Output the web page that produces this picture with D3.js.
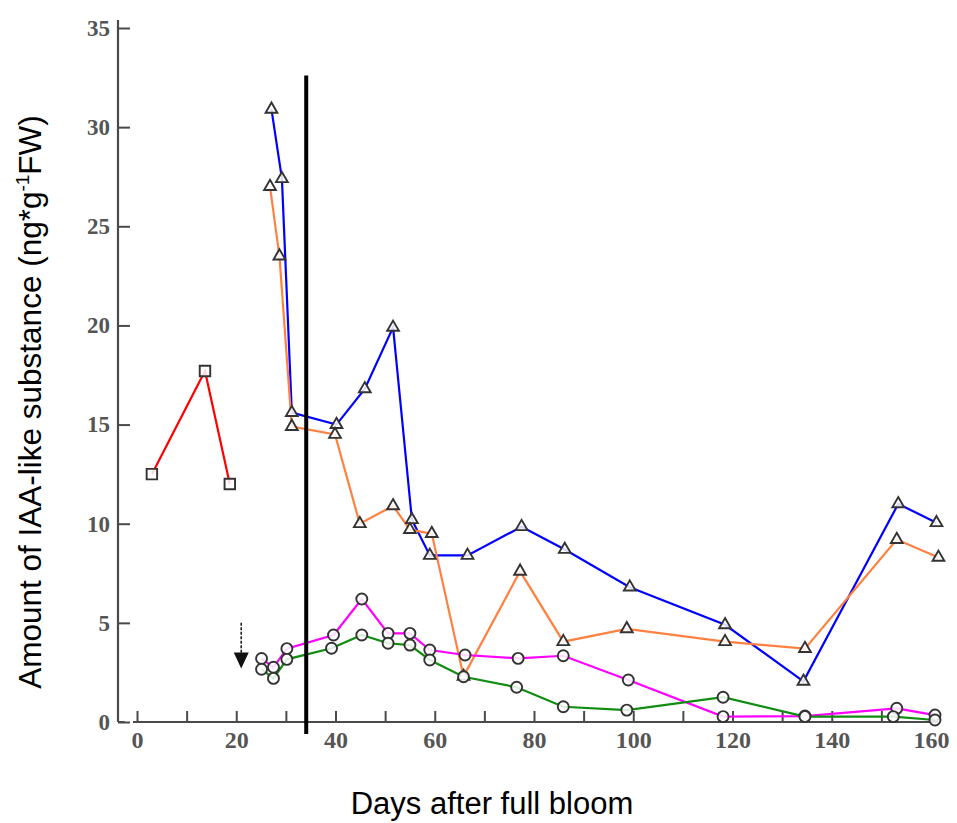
<!DOCTYPE html>
<html>
<head>
<meta charset="utf-8">
<script src="https://cdn.jsdelivr.net/npm/d3@7"></script>
<style>
  html, body { margin: 0; padding: 0; background: #fff; }
  svg { display: block; }
</style>
</head>
<body>
<svg id="chart" width="957" height="823"></svg>
<script>
// IAA-like substance content over the season (days after full bloom)

// Red series, squares (early fruitlets)
const redDays = [3, 13.7, 18.7];
const redVals = [12.5, 17.7, 12.0];

// Blue series, triangles
const blueDays = [27.1, 29.2, 31.2, 40.2, 45.9, 51.6, 55.4, 59.0, 66.6, 77.5, 86.2, 99.3, 118.5, 134.3, 153.4, 161.1];
const blueVals = [30.9, 27.4, 15.6, 15.0, 16.8, 19.9, 10.2, 8.4, 8.4, 9.85, 8.7, 6.8, 4.9, 2.05, 11.0, 10.05];

// Orange series, triangles
const orangeDays = [26.8, 28.7, 31.2, 39.9, 44.9, 51.6, 55.0, 59.4, 65.8, 77.2, 85.9, 98.7, 118.5, 134.6, 153.1, 161.5];
const orangeVals = [27.0, 23.5, 14.9, 14.5, 10.0, 10.9, 9.7, 9.5, 2.3, 7.6, 4.05, 4.7, 4.05, 3.7, 9.2, 8.3];

// Magenta series, circles
const magentaDays = [25.1, 27.5, 30.2, 39.6, 45.3, 50.6, 55.0, 59.0, 66.1, 76.8, 85.9, 99.0, 118.1, 134.6, 153.1, 160.8];
const magentaVals = [3.2, 2.76, 3.7, 4.39, 6.2, 4.47, 4.47, 3.63, 3.38, 3.21, 3.34, 2.12, 0.27, 0.3, 0.69, 0.35];

// Green series, circles
const greenDays = [25.1, 27.5, 30.2, 39.2, 45.3, 50.6, 55.0, 59.0, 65.8, 76.5, 85.9, 98.7, 118.1, 134.6, 152.4, 160.8];
const greenVals = [2.66, 2.2, 3.16, 3.72, 4.39, 3.97, 3.88, 3.13, 2.28, 1.75, 0.77, 0.6, 1.25, 0.27, 0.27, 0.1];

// Reference marks
const dividerDay = 34.1;          // vertical divider
const dividerRange = [32.6, -0.6];
const arrowDay = 21;              // downward arrow
const arrowRange = [5.0, 2.7];

// Axis ticks
const xTicks = d3.range(0, 161, 10);
const xLabelTicks = [0, 20, 40, 60, 80, 100, 120, 140, 160];
const yTicks = [0, 5, 10, 15, 20, 25, 30, 35];

const xTitle = "Days after full bloom";
const yTitle = ["Amount of IAA-like substance (ng*g", "-1", "FW)"];

const svg = d3.select("#chart");

const x = d3.scaleLinear().domain([0, 160]).range([137, 931]);
const y = d3.scaleLinear().domain([0, 35]).range([722, 28]);

const axisColor = "#4a4a4a";
const tickFont = "'Liberation Serif', 'DejaVu Serif', serif";

// ---- axes ----
const yAxis = svg.append("g")
  .attr("transform", `translate(${118},0)`)
  .call(d3.axisLeft(y).tickValues(yTicks).tickSize(-12).tickSizeOuter(0).tickPadding(8));
yAxis.select(".domain").remove();
yAxis.append("line")
  .attr("x1", 0).attr("x2", 0)
  .attr("y1", y(35.4)).attr("y2", y(0))
  .attr("stroke", axisColor).attr("stroke-width", 2.2);
yAxis.selectAll(".tick line").attr("stroke", axisColor).attr("stroke-width", 2);
yAxis.selectAll(".tick text")
  .attr("font-family", tickFont).attr("font-weight", "bold")
  .attr("font-size", 23).attr("fill", "#555");

const xAxis = svg.append("g")
  .attr("transform", `translate(0,${y(0)})`)
  .call(d3.axisBottom(x).tickValues(xTicks).tickSize(-11).tickSizeOuter(0).tickPadding(9)
    .tickFormat(d => xLabelTicks.includes(d) ? d : ""));
xAxis.select(".domain").remove();
xAxis.append("line")
  .attr("x1", x(-0.8)).attr("x2", x(161.5))
  .attr("y1", 0).attr("y2", 0)
  .attr("stroke", axisColor).attr("stroke-width", 2.2);
xAxis.selectAll(".tick line").attr("stroke", axisColor).attr("stroke-width", 2);
xAxis.selectAll(".tick text")
  .attr("font-family", tickFont).attr("font-weight", "bold")
  .attr("font-size", 24).attr("fill", "#555");

// small hook joining the y axis to the x axis
svg.append("line")
  .attr("x1", 118).attr("x2", x(-2.5))
  .attr("y1", y(0)).attr("y2", y(0))
  .attr("stroke", axisColor).attr("stroke-width", 2);

// ---- series ----
const series = [
  { days: redDays, vals: redVals, color: "#ff0000", shape: d3.symbolSquare, size: 110 },
  { days: blueDays, vals: blueVals, color: "#0000ff", shape: d3.symbolTriangle, size: 60 },
  { days: orangeDays, vals: orangeVals, color: "#ff8040", shape: d3.symbolTriangle, size: 60 },
  { days: magentaDays, vals: magentaVals, color: "#ff00ff", shape: d3.symbolCircle, size: 95 },
  { days: greenDays, vals: greenVals, color: "#108c10", shape: d3.symbolCircle, size: 95 }
];

const line = d3.line().x(d => x(d[0])).y(d => y(d[1]));

const linesG = svg.append("g");
series.forEach(s => {
  const pts = s.days.map((d, i) => [d, s.vals[i]]);
  linesG.append("path")
    .datum(pts)
    .attr("fill", "none")
    .attr("stroke", s.color)
    .attr("stroke-width", 2.2)
    .attr("d", line);
});

const markersG = svg.append("g");
series.forEach(s => {
  const pts = s.days.map((d, i) => [d, s.vals[i]]);
  markersG.selectAll(null)
    .data(pts)
    .enter().append("path")
    .attr("transform", d => `translate(${x(d[0])},${y(d[1])})`)
    .attr("d", d3.symbol().type(s.shape).size(s.size))
    .attr("fill", "#fff")
    .attr("fill-opacity", 0.85)
    .attr("stroke", "#333")
    .attr("stroke-width", 1.9);
});

// ---- arrow ----
const ax = x(arrowDay);
const headLen = 16;
svg.append("line")
  .attr("x1", ax).attr("x2", ax)
  .attr("y1", y(arrowRange[0])).attr("y2", y(arrowRange[1]) - headLen + 1)
  .attr("stroke", "#222").attr("stroke-width", 1.6)
  .attr("stroke-dasharray", "3,1.5");
svg.append("path")
  .attr("d", `M${ax - 7.5},${y(arrowRange[1]) - headLen} L${ax + 7.5},${y(arrowRange[1]) - headLen} L${ax},${y(arrowRange[1])} Z`)
  .attr("fill", "#111");

// ---- divider ----
svg.append("line")
  .attr("x1", x(dividerDay)).attr("x2", x(dividerDay))
  .attr("y1", y(dividerRange[0])).attr("y2", y(dividerRange[1]))
  .attr("stroke", "#000").attr("stroke-width", 4);

// ---- titles ----
svg.append("text")
  .attr("x", 492).attr("y", 814)
  .attr("text-anchor", "middle")
  .attr("font-family", "'Liberation Sans', Arial, sans-serif")
  .attr("font-size", 31)
  .attr("fill", "#000")
  .text(xTitle);

const yt = svg.append("text")
  .attr("transform", "translate(41,402) rotate(-90)")
  .attr("text-anchor", "middle")
  .attr("font-family", "'Liberation Sans', Arial, sans-serif")
  .attr("font-size", 31.5)
  .attr("fill", "#000");
yt.append("tspan").text(yTitle[0]);
yt.append("tspan").attr("font-size", 19).attr("dy", -12).text(yTitle[1]);
yt.append("tspan").attr("dy", 12).text(yTitle[2]);
</script>
</body>
</html>
